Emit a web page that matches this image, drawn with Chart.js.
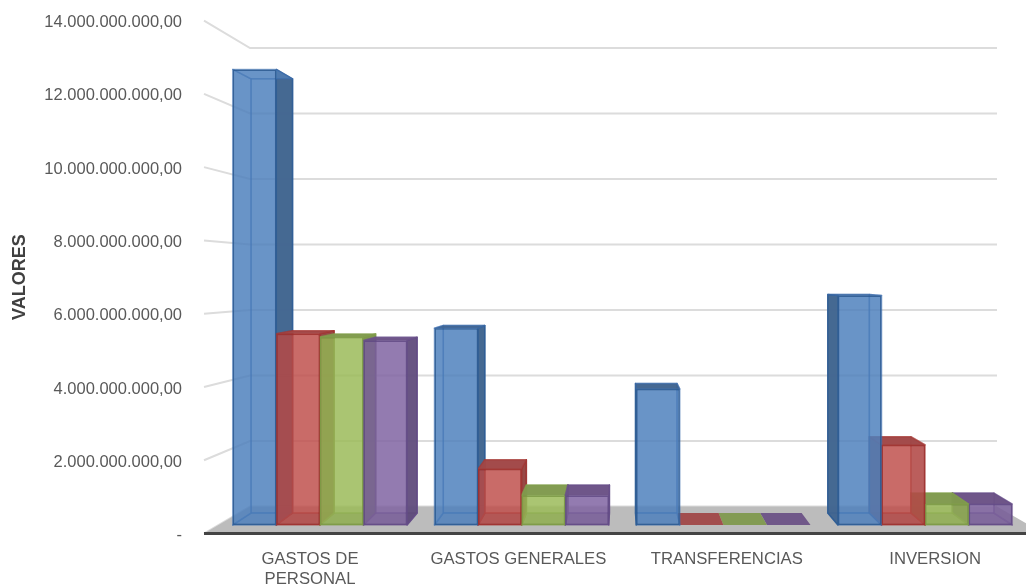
<!DOCTYPE html>
<html lang="es">
<head>
<meta charset="utf-8">
<title>Valores por concepto</title>
<script src="https://cdn.jsdelivr.net/npm/chart.js@4"></script>
<style>
  html, body { margin: 0; padding: 0; background: #fff; overflow: hidden; }
  canvas { display: block; }
</style>
</head>
<body>
<canvas id="grafico" width="1026" height="587"></canvas>
<script>
// Budget categories and the four series, in pesos.
const categories = [["GASTOS DE", "PERSONAL"], "GASTOS GENERALES", "TRANSFERENCIAS", "INVERSION"];
const serieAzul = [12870000000, 5560000000, 3840000000, 6480000000];
const serieRoja = [5400000000, 1580000000, 0, 2260000000];
const serieVerde = [5310000000, 830000000, 0, 590000000];
const serieMorada = [5210000000, 830000000, 0, 590000000];
const axisTicks = [0, 2000000000, 4000000000, 6000000000, 8000000000, 10000000000, 12000000000, 14000000000];

// Face colours per series: front/back, edge, inner edge, outer side, inner side, top.
const faceFill = ["rgba(79,129,189,0.62)", "rgba(192,80,77,0.62)", "rgba(155,187,89,0.62)", "rgba(128,100,162,0.62)"];
const faceEdge = ["rgba(46,92,148,0.9)", "rgba(160,50,48,0.9)", "rgba(125,155,70,0.9)", "rgba(100,75,135,0.9)"];
const softEdge = ["rgba(60,110,175,0.55)", "rgba(165,55,52,0.5)", "rgba(130,160,75,0.5)", "rgba(105,80,140,0.5)"];
const outerSide = ["rgba(62,98,140,0.9)", "rgba(140,60,58,0.85)", "rgba(115,140,65,0.85)", "rgba(92,72,120,0.85)"];
const innerSide = ["rgba(79,129,189,0.62)", "rgba(150,60,60,0.7)", "rgba(125,150,70,0.7)", "rgba(105,85,135,0.7)"];
const topFace = ["rgba(62,98,140,0.92)", "rgba(160,72,72,0.95)", "rgba(128,153,78,0.95)", "rgba(108,82,134,0.95)"];

// Perspective: bars and walls recede toward these vanishing points.
const BAR_VANISH = { x: 622, y: 270, depth: 0.953 };
const WALL_VANISH = { x: 638, y: 279, depth: 0.894 };
const WALL_FRONT_X = 204, WALL_BACK_RIGHT = 997;

const recede = (vp, x, y) => [vp.x + (x - vp.x) * vp.depth, vp.y + (y - vp.y) * vp.depth];

function quad(ctx, pts, fill, edge) {
  ctx.beginPath();
  pts.forEach((p, i) => i ? ctx.lineTo(p[0], p[1]) : ctx.moveTo(p[0], p[1]));
  ctx.closePath();
  if (fill) { ctx.fillStyle = fill; ctx.fill(); }
  if (edge) { ctx.strokeStyle = edge; ctx.lineWidth = 1.5; ctx.stroke(); }
}

// Wall gridlines and floor, drawn behind everything else.
function drawRoom(chart) {
  const { ctx } = chart;
  const yAxis = chart.scales.y;
  ctx.save();
  ctx.strokeStyle = "#dcdcdc";
  ctx.lineWidth = 2;
  axisTicks.forEach(value => {
    const yf = yAxis.getPixelForValue(value);
    const [xb, yb] = recede(WALL_VANISH, WALL_FRONT_X, yf);
    ctx.beginPath();
    ctx.moveTo(WALL_FRONT_X, yf);
    ctx.lineTo(xb, yb);
    ctx.lineTo(WALL_BACK_RIGHT, yb);
    ctx.stroke();
  });
  const y0 = yAxis.getPixelForValue(0);
  const [xb0, yb0] = recede(WALL_VANISH, WALL_FRONT_X, y0);
  quad(ctx, [[WALL_FRONT_X, y0], [xb0, yb0], [WALL_BACK_RIGHT, yb0], [1044, y0]], "#bcbcbc");
  ctx.strokeStyle = "#444";
  ctx.lineWidth = 3;
  ctx.beginPath();
  ctx.moveTo(WALL_FRONT_X, y0);
  ctx.lineTo(chart.width, y0);
  ctx.stroke();
  ctx.restore();
}

// Back, floor, side and top faces of each bar; the library paints the front face over them.
// Bars farthest from the vanishing point go first so nearer sides overlap them.
function drawBarDepth(chart) {
  const { ctx } = chart;
  const bars = [];
  chart.data.datasets.forEach((ds, i) => {
    chart.getDatasetMeta(i).data.forEach(bar => {
      bars.push({ i, ...bar.getProps(["x", "y", "base", "width"], true) });
    });
  });
  bars.sort((a, b) => Math.abs(b.x - BAR_VANISH.x) - Math.abs(a.x - BAR_VANISH.x));
  ctx.save();
  ctx.lineJoin = "round";
  bars.forEach(({ i, x, y, base, width }) => {
    const l = x - width / 2, r = x + width / 2;
    const lt = recede(BAR_VANISH, l, y), rt = recede(BAR_VANISH, r, y);
    const lb = recede(BAR_VANISH, l, base), rb = recede(BAR_VANISH, r, base);
    if (Math.abs(base - y) < 0.5) {
      quad(ctx, [[l, base], [r, base], rb, lb], topFace[i]);
      return;
    }
    quad(ctx, [lt, rt, rb, lb], faceFill[i], softEdge[i]);
    quad(ctx, [[l, base], [r, base], rb, lb], innerSide[i], softEdge[i]);
    const leftIsOuter = lt[0] < l, rightIsOuter = rt[0] > r;
    quad(ctx, [[l, y], lt, lb, [l, base]], leftIsOuter ? outerSide[i] : innerSide[i], leftIsOuter ? faceEdge[i] : softEdge[i]);
    quad(ctx, [[r, y], rt, rb, [r, base]], rightIsOuter ? outerSide[i] : innerSide[i], rightIsOuter ? faceEdge[i] : softEdge[i]);
    quad(ctx, [[l, y], [r, y], rt, lt], y > BAR_VANISH.y ? topFace[i] : innerSide[i], softEdge[i]);
  });
  ctx.restore();
}

const depthPlugin = {
  id: "profundidad",
  beforeDatasetsDraw(chart) {
    drawRoom(chart);
    drawBarDepth(chart);
  }
};

const formatValue = v => {
  if (v === 0) return "-";
  return v.toFixed(0).replace(/\B(?=(\d{3})+(?!\d))/g, ".") + ",00";
};

const seriesValues = [serieAzul, serieRoja, serieVerde, serieMorada];
const seriesNames = ["Serie 1", "Serie 2", "Serie 3", "Serie 4"];
const frontFill = ["rgba(79,129,189,0.6)", "rgba(192,80,77,0.6)", "rgba(155,187,89,0.6)", "rgba(128,100,162,0.6)"];

const labelFont = { family: "'Liberation Sans', Arial, sans-serif", size: 16.7 };

new Chart(document.getElementById("grafico"), {
  type: "bar",
  data: {
    labels: categories,
    datasets: seriesValues.map((values, i) => ({
      label: seriesNames[i],
      data: values,
      xAxisID: "x",
      yAxisID: "yBars",
      backgroundColor: frontFill[i],
      borderColor: faceEdge[i],
      borderWidth: ctx => (ctx.raw === 0 ? 0 : 1.5),
      borderSkipped: false,
      categoryPercentage: 0.864,
      barPercentage: 1,
      clip: false
    }))
  },
  options: {
    responsive: false,
    animation: false,
    layout: { padding: { top: 20.6, left: 0, right: 0, bottom: 0 } },
    plugins: { legend: { display: false }, tooltip: { enabled: false } },
    scales: {
      // Hidden category axis that places the bars on their front plane.
      x: { display: false, grid: { display: false } },
      // Visible category labels sit on the front edge of the floor, wider apart than the bars.
      xLabels: {
        type: "linear",
        position: "bottom",
        offset: false,
        bounds: "data",
        min: -0.4367,
        max: 3.4357,
        grid: { display: false, drawTicks: false, offset: false },
        border: { display: false },
        afterBuildTicks: scale => { scale.ticks = categories.map((c, i) => ({ value: i })); },
        afterFit: scale => { scale.height = 53.5; scale.paddingLeft = 0; scale.paddingRight = 0; },
        ticks: {
          autoSkip: false,
          maxRotation: 0,
          minRotation: 0,
          padding: 16,
          color: "#595959",
          font: labelFont,
          callback: v => categories[v]
        }
      },
      y: {
        position: "left",
        bounds: "data",
        min: 0,
        max: 14000000000,
        grid: { display: false, drawTicks: false },
        border: { display: false },
        afterBuildTicks: scale => { scale.ticks = axisTicks.map(value => ({ value })); },
        afterFit: scale => { scale.width = 219; scale.paddingTop = 0; scale.paddingBottom = 0; },
        title: {
          display: true,
          text: "VALORES",
          color: "#404040",
          padding: { top: 9, bottom: 0 },
          font: { family: "'Liberation Sans', Arial, sans-serif", size: 18, weight: "bold" }
        },
        ticks: {
          padding: 37,
          labelOffset: 2,
          color: "#595959",
          font: { family: "'Liberation Sans', Arial, sans-serif", size: 16.5 },
          callback: formatValue
        }
      },
      // Hidden value axis for the bars' front plane, which is shallower than the wall's front edge.
      yBars: {
        display: false,
        position: "left",
        bounds: "data",
        min: -240100000,
        max: 14249000000,
        grid: { display: false }
      }
    }
  },
  plugins: [depthPlugin]
});
</script>
</body>
</html>
